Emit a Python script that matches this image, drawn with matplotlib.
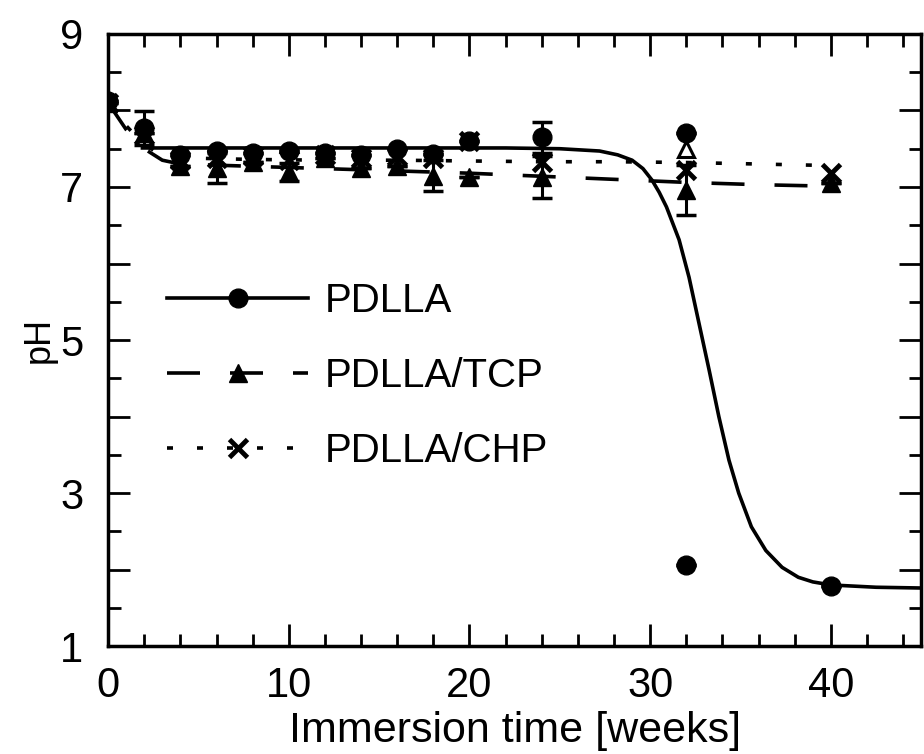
import matplotlib
matplotlib.use("Agg")
import matplotlib.pyplot as plt
from matplotlib.lines import Line2D
from matplotlib.ticker import MultipleLocator, FuncFormatter

plt.rcParams['font.family'] = ['Liberation Sans', 'DejaVu Sans']

# ---- measured points ----
weeks = [0, 2, 4, 6, 8, 10, 12, 14, 16, 18, 20, 24, 32, 32, 40]
pdlla = [8.12, 7.77, 7.42, 7.47, 7.45, 7.47, 7.45, 7.42, 7.50, 7.43, 7.60, 7.65, 7.71, 2.06, 1.78]
pdlla_err = [0, 0.22, 0, 0, 0, 0, 0, 0, 0, 0, 0, 0.20, 0, 0, 0]

tcp_weeks = [0, 2, 4, 6, 8, 10, 12, 14, 16, 18, 20, 24, 32, 40]
tcp = [8.10, 7.70, 7.27, 7.25, 7.33, 7.20, 7.38, 7.25, 7.27, 7.15, 7.13, 7.13, 6.96, 7.05]
tcp_err = [0, 0, 0, 0.20, 0, 0.12, 0, 0, 0, 0.20, 0, 0.27, 0.33, 0]
tcp_open_weeks = [32]
tcp_open = [7.50]

chp_weeks = [0, 2, 4, 6, 8, 10, 12, 14, 16, 18, 20, 24, 32, 40]
chp = [8.10, 7.68, 7.35, 7.38, 7.40, 7.35, 7.42, 7.38, 7.40, 7.38, 7.60, 7.33, 7.22, 7.18]

# ---- fitted curves ----
pdlla_fit_t = [1.8, 6, 10, 14, 18, 22, 25, 27.2, 28.2, 29.0, 29.6, 30.1, 30.5, 30.9, 31.6,
               32.15, 32.7, 33.26, 33.8, 34.36, 34.9, 35.6, 36.4, 37.3, 38.2, 39.0, 40, 42.5, 45]
pdlla_fit_ph = [7.51, 7.51, 7.51, 7.51, 7.51, 7.51, 7.50, 7.47, 7.42, 7.35, 7.24, 7.09, 6.93, 6.74, 6.31,
                5.82, 5.22, 4.61, 4.00, 3.43, 3.00, 2.56, 2.25, 2.03, 1.90, 1.84, 1.80, 1.77, 1.76]

tcp_fit_t = [0, 1, 2, 3, 4, 8, 12, 16, 20, 24, 28, 32, 36, 40]
tcp_fit_ph = [8.10, 7.75, 7.50, 7.35, 7.30, 7.27, 7.24, 7.21, 7.18, 7.14, 7.10, 7.06, 7.03, 7.01]

chp_fit_t = [0, 1, 2, 3, 4, 8, 12, 16, 20, 24, 28, 32, 36, 40]
chp_fit_ph = [8.10, 7.80, 7.55, 7.42, 7.38, 7.36, 7.35, 7.35, 7.34, 7.33, 7.33, 7.32, 7.30, 7.28]

labels = ['PDLLA', 'PDLLA/TCP', 'PDLLA/CHP']

fig = plt.figure(figsize=(9.24, 7.54), dpi=100)
ax = fig.add_axes([0.117, 0.143, 0.880, 0.812])

lw = 2.6
dash_tcp = (33 * 0.72 / lw, 30 * 0.72 / lw)
dot_chp = (6 * 0.72 / lw, 24 * 0.72 / lw)

ax.plot(pdlla_fit_t, pdlla_fit_ph, color='black', lw=lw, solid_capstyle='butt')
ax.plot(tcp_fit_t, tcp_fit_ph, color='black', lw=lw, dashes=dash_tcp)
ax.plot(chp_fit_t, chp_fit_ph, color='black', lw=lw, dashes=dot_chp)

ms = 13.5
ax.errorbar(weeks, pdlla, yerr=pdlla_err, fmt='none', ecolor='black', elinewidth=2.2, capsize=7, capthick=2.5)
ax.errorbar(tcp_weeks, tcp, yerr=tcp_err, fmt='none', ecolor='black', elinewidth=2.2, capsize=7, capthick=2.5)
ax.plot(weeks, pdlla, 'o', color='black', ms=ms, ls='none', zorder=5)
ax.plot(tcp_weeks, tcp, '^', color='black', ms=ms, ls='none', zorder=5)
ax.plot(tcp_open_weeks, tcp_open, '^', mfc='white', mec='black', mew=2.2, ms=ms - 2, ls='none', zorder=5)
ax.plot(chp_weeks, chp, 'x', color='black', ms=ms, mew=3.5, ls='none', zorder=5)

ax.set_xlim(0, 45)
ax.set_ylim(1, 9)
ax.xaxis.set_major_locator(MultipleLocator(10))
ax.xaxis.set_minor_locator(MultipleLocator(2))
ax.yaxis.set_major_locator(MultipleLocator(1))
ax.yaxis.set_minor_locator(MultipleLocator(0.5))
ax.yaxis.set_major_formatter(FuncFormatter(lambda v, p: f"{int(round(v))}" if int(round(v)) % 2 == 1 else ""))
ax.xaxis.set_major_formatter(FuncFormatter(lambda v, p: f"{int(round(v))}"))

ax.tick_params(which='both', direction='in', top=True, right=True, width=2, colors='black')
ax.tick_params(which='major', length=16)
ax.tick_params(which='minor', length=9)
ax.tick_params(axis='x', which='major', labelsize=30, pad=14)
ax.tick_params(axis='y', which='major', labelsize=30, pad=18)
for s in ax.spines.values():
    s.set_linewidth(2.5)

ax.set_xlabel('Immersion time [weeks]', fontsize=31, labelpad=4)
ax.set_ylabel('pH', fontsize=26, labelpad=2)

handles = [
    Line2D([], [], color='black', lw=lw, marker='o', ms=ms),
    Line2D([], [], color='black', lw=lw, dashes=dash_tcp, marker='^', ms=ms),
    Line2D([], [], color='black', lw=lw, dashes=dot_chp, marker='x', ms=ms, mew=3.5),
]
ax.legend(handles, labels, loc='upper left', bbox_to_anchor=(0.053, 0.621), frameon=False,
          fontsize=29, handlelength=3.5, handletextpad=0.4, labelspacing=0.92, numpoints=1,
          borderaxespad=0)

fig.savefig('out.png', dpi=100)
